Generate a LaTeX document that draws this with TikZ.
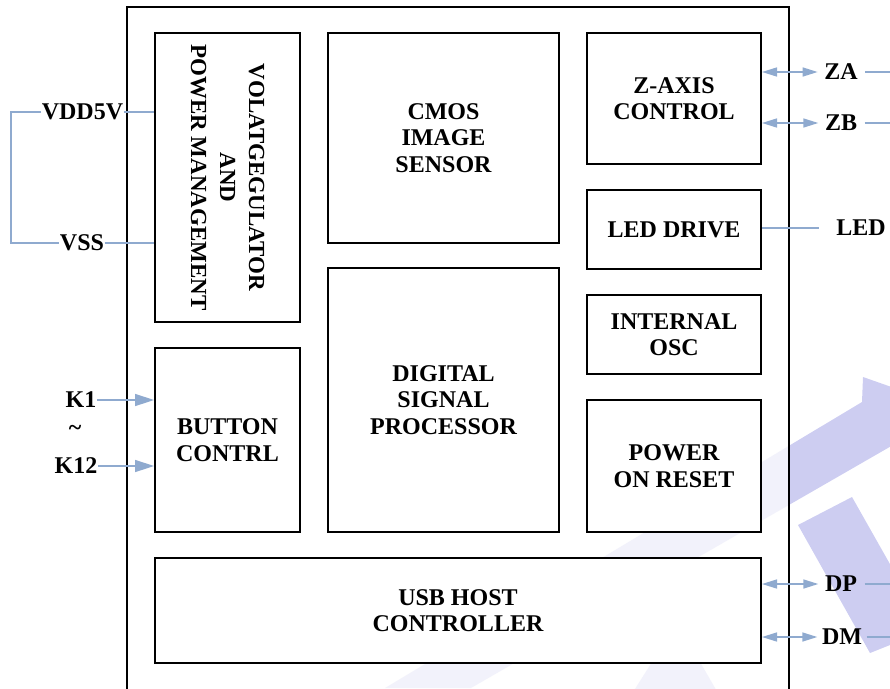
\documentclass[tikz,border=0pt]{standalone}
\usepackage{fontspec}
\setmainfont{Liberation Serif}
\usetikzlibrary{arrows.meta}
\definecolor{sig}{RGB}{143,170,207}
\definecolor{wm}{RGB}{205,205,241}
\begin{document}
\begin{tikzpicture}[x=1pt,y=-1pt,
  lbl/.style={font=\bfseries\fontsize{24}{26.5}\selectfont},
  blk/.style={draw=black, line width=2pt, fill=white, inner sep=0pt, align=center, lbl},
  pin/.style={inner sep=0.5pt, lbl},
  sigl/.style={draw=sig, line width=1.5pt},
  darr/.style={sigl, {Triangle[length=15pt,width=9pt]}-{Triangle[length=15pt,width=9pt]}},
  sarr/.style={sigl, -{Triangle[length=19pt,width=12pt]}}]
\clip (0,0) rectangle (890,688);
% watermark
\fill[wm] (385,688) -- (862,402) -- (863,377) -- (900,390) -- (900,441) -- (471,688) -- cycle;
\fill[wm] (798,525) -- (852,497) -- (895,573) -- (895,643) -- (870,653) -- cycle;
\fill[wm] (628,700) -- (652,662) -- (700,662) -- (722,700) -- cycle;
% outer chip outline
\fill[white, opacity=0.75] (127,7) rectangle (789,700);
\draw[line width=2pt] (127,7) rectangle (789,700);
% blocks
\node[blk, minimum width=145pt, minimum height=289pt] (reg) at (227.5,177.5) {};
\node[rotate=-90, align=center, inner sep=0pt, font=\bfseries\fontsize{23}{29}\selectfont] (regtxt) at (reg.center) {VOLATGEGULATOR\\AND\\POWER MANAGEMENT};
\node[blk, minimum width=231pt, minimum height=210pt] (cmos) at (443.5,138) {CMOS\\IMAGE\\SENSOR};
\node[blk, minimum width=174pt, minimum height=131pt] (zax) at (674,98.5) {Z-AXIS\\CONTROL};
\node[blk, minimum width=174pt, minimum height=79pt] (ledbox) at (674,229.5) {LED DRIVE};
\node[blk, minimum width=174pt, minimum height=79pt] (osc) at (674,334.5) {INTERNAL\\OSC};
\node[blk, minimum width=174pt, minimum height=132pt] (por) at (674,466) {POWER\\ON RESET};
\node[blk, minimum width=231pt, minimum height=264pt] (dsp) at (443.5,400) {DIGITAL\\SIGNAL\\PROCESSOR};
\node[blk, minimum width=145pt, minimum height=184pt] (btn) at (227.5,440) {BUTTON\\CONTRL};
\node[blk, minimum width=606pt, minimum height=105pt] (usb) at (458,610.5) {USB HOST\\CONTROLLER};
% pins
\node[pin] (vdd) at (82.5,112) {VDD5V};
\node[pin] (vss) at (82,243) {VSS};
\node[pin] (k1) at (81,400) {K1};
\node[pin] (tl) at (75,430) {\textasciitilde};
\node[pin] (k12) at (76,466) {K12};
\node[pin] (za) at (841,72) {ZA};
\node[pin] (zb) at (841,123) {ZB};
\node[pin] (ledp) at (861,228) {LED};
\node[pin] (dp) at (841,584) {DP};
\node[pin] (dm) at (842,637) {DM};
\coordinate (lft) at (11,0);
\coordinate (rgt) at (890,0);
% connectors
\draw[sigl] (vdd.east) -- (vdd.east -| reg.west);
\draw[sigl] (vdd.west) -- (vdd.west -| lft) |- (vss.west);
\draw[sigl] (vss.east) -- (vss.east -| reg.west);
\draw[sarr] (k1.east) -- (k1.east -| btn.west);
\draw[sarr] (k12.east) -- (k12.east -| btn.west);
\draw[darr, shorten >=6pt] (za.west -| zax.east) -- (za.west);
\draw[sigl, shorten <=7pt] (za.east) -- (za.east -| rgt);
\draw[darr, shorten >=6pt] (zb.west -| zax.east) -- (zb.west);
\draw[sigl, shorten <=7pt] (zb.east) -- (zb.east -| rgt);
\draw[sigl, shorten >=17pt] (ledp.west -| ledbox.east) -- (ledp.west);
\draw[darr, shorten >=6pt] (dp.west -| usb.east) -- (dp.west);
\draw[sigl, shorten <=7pt] (dp.east) -- (dp.east -| rgt);
\draw[darr, shorten >=4pt] (dm.west -| usb.east) -- (dm.west);
\draw[sigl, shorten <=4pt] (dm.east) -- (dm.east -| rgt);
\end{tikzpicture}
\end{document}
